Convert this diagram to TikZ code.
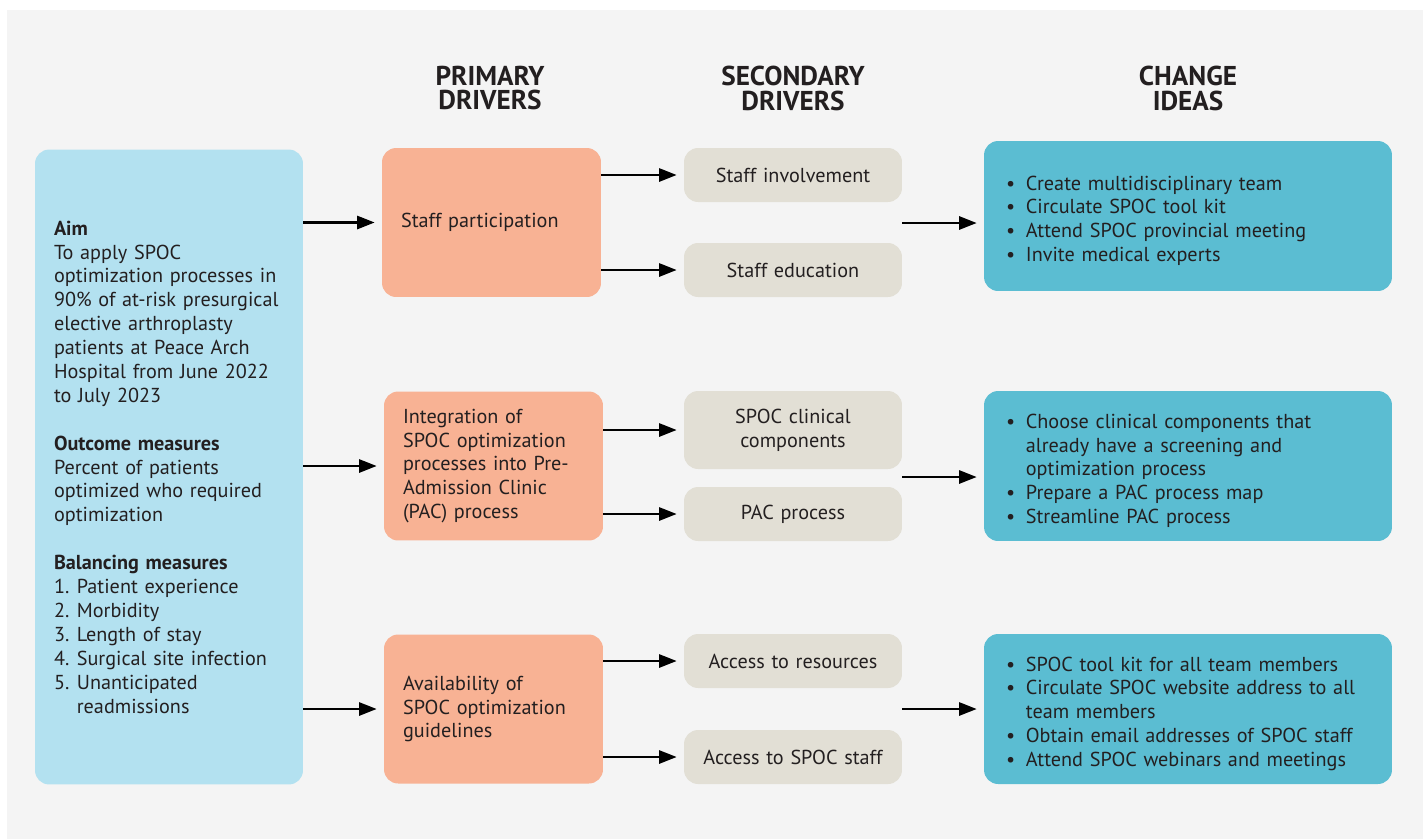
\documentclass[tikz,border=0pt]{standalone}
\usepackage{fontspec}
\setmainfont{PT Sans}
\usetikzlibrary{arrows.meta}

\definecolor{bggray}{HTML}{F4F4F4}
\definecolor{aimblue}{HTML}{B3E1F0}
\definecolor{primsalmon}{HTML}{F8B294}
\definecolor{secbeige}{HTML}{E2DFD5}
\definecolor{ideateal}{HTML}{5BBDD2}
\definecolor{inkdark}{HTML}{231F20}

\newcommand{\bodyfont}{\fontsize{11.5}{13.6}\selectfont}
\newcommand{\idea}[1]{\par\noindent\hangindent=11.3pt\hangafter=1\makebox[11.3pt][l]{\textbullet}#1}
\newcommand{\num}[1]{\makebox[13pt][l]{#1}}

\begin{document}
\begin{tikzpicture}[x=0.02cm,y=-0.02cm,
  aimstyle/.style={fill=aimblue,rounded corners=8pt,minimum width=5.36cm,minimum height=12.7cm,
    text width=4.6cm,inner xsep=0.38cm,align=left,font=\bodyfont,text=inkdark},
  primstyle/.style={fill=primsalmon,rounded corners=8pt,minimum width=4.38cm,minimum height=2.98cm,
    text width=3.62cm,inner xsep=0.38cm,align=left,font=\bodyfont,text=inkdark},
  secstyle/.style={fill=secbeige,rounded corners=8pt,minimum width=4.36cm,minimum height=1.08cm,
    text width=3.8cm,inner xsep=0.28cm,align=center,font=\bodyfont,text=inkdark},
  ideastyle/.style={fill=ideateal,rounded corners=8pt,minimum width=8.16cm,minimum height=3.0cm,
    text width=7.28cm,inner xsep=0.44cm,align=left,font=\bodyfont,text=inkdark},
  headstyle/.style={align=center,font=\fontsize{15.5}{14.2}\selectfont\bfseries,text=inkdark},
  arrstyle/.style={-{Triangle[length=10pt,width=7.5pt]},line width=1.3pt,shorten >=4pt}]

 \fill[white] (0,0) rectangle (1426,839);
 \fill[bggray] (7,10) rectangle (1423,839);
 \useasboundingbox (0,0) rectangle (1426,839);

 % column heads
 \node[headstyle] (hprim) at (490,88) {PRIMARY\\DRIVERS};
 \node[headstyle] (hsec) at (793,88) {SECONDARY\\DRIVERS};
 \node[headstyle] (hidea) at (1188,88) {CHANGE\\IDEAS};

 % aim
 \node[aimstyle] (aim) at (169,467) {\textbf{Aim}\\
   To apply SPOC\\
   optimization processes in\\
   90\% of at-risk presurgical\\
   elective arthroplasty\\
   patients at Peace Arch\\
   Hospital from June 2022\\
   to July 2023\\[13.6pt]
   \textbf{Outcome measures}\\
   Percent of patients\\
   optimized who required\\
   optimization\\[13.6pt]
   \textbf{Balancing measures}\\
   \num{1.}Patient experience\\
   \num{2.}Morbidity\\
   \num{3.}Length of stay\\
   \num{4.}Surgical site infection\\
   \num{5.}Unanticipated\\
   \num{}readmissions};

 % primary drivers
 \node[primstyle] (p1) at (491.5,222.5) {Staff participation};
 \node[primstyle] (p2) at (493.5,466) {Integration of\\SPOC optimization\\processes into Pre-\\Admission Clinic\\(PAC) process};
 \node[primstyle] (p3) at (493.5,709) {Availability of\\SPOC optimization\\guidelines};

 % secondary drivers
 \node[secstyle] (s1) at (793,175) {Staff involvement};
 \node[secstyle] (s2) at (793,270) {Staff education};
 \node[secstyle,minimum height=1.56cm] (s3) at (793,430) {SPOC clinical\\components};
 \node[secstyle] (s4) at (793,514) {PAC process};
 \node[secstyle] (s5) at (793,661) {Access to resources};
 \node[secstyle] (s6) at (793,757) {Access to SPOC staff};

 % change ideas
 \node[ideastyle] (c1) at (1188,216) {\idea{Create multidisciplinary team}
   \idea{Circulate SPOC tool kit}
   \idea{Attend SPOC provincial meeting}
   \idea{Invite medical experts}};
 \node[ideastyle] (c2) at (1188,466) {\idea{Choose clinical components that\newline already have a screening and\newline optimization process}
   \idea{Prepare a PAC process map}
   \idea{Streamline PAC process}};
 \node[ideastyle] (c3) at (1188,709) {\idea{SPOC tool kit for all team members}
   \idea{Circulate SPOC website address to all\newline team members}
   \idea{Obtain email addresses of SPOC staff}
   \idea{Attend SPOC webinars and meetings}};

 % arrows
 \draw[arrstyle] (aim.east |- p1.west) -- (p1.west);
 \draw[arrstyle] (aim.east |- p2.west) -- (p2.west);
 \draw[arrstyle] (aim.east |- p3.west) -- (p3.west);
 \draw[arrstyle] (p1.east |- s1.west) -- (s1.west);
 \draw[arrstyle] (p1.east |- s2.west) -- (s2.west);
 \draw[arrstyle] (p2.east |- s3.west) -- (s3.west);
 \draw[arrstyle] (p2.east |- s4.west) -- (s4.west);
 \draw[arrstyle] (p3.east |- s5.west) -- (s5.west);
 \draw[arrstyle] (p3.east |- s6.west) -- (s6.west);
 \coordinate (k1) at (902,223);
 \coordinate (k2) at (902,477);
 \coordinate (k3) at (902,709);
 \draw[arrstyle] (k1) -- (k1 -| c1.west);
 \draw[arrstyle] (k2) -- (k2 -| c2.west);
 \draw[arrstyle] (k3) -- (k3 -| c3.west);
\end{tikzpicture}
\end{document}
